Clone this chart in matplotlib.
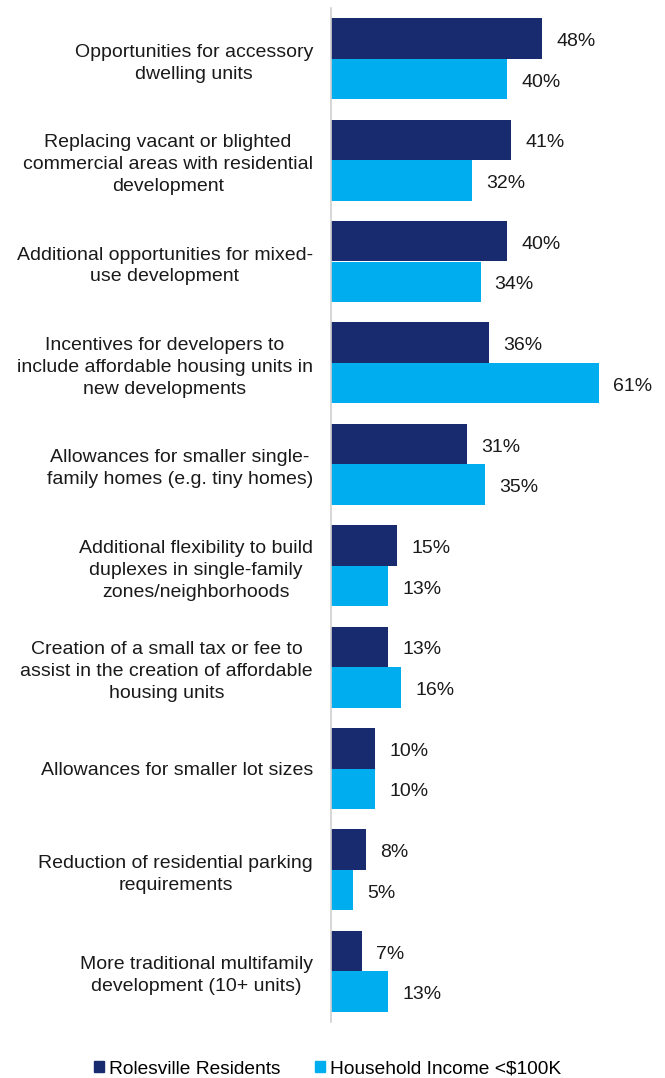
import numpy as np
import matplotlib.pyplot as plt
from matplotlib.patches import Patch

plt.rcParams['font.family'] = ['Liberation Sans', 'DejaVu Sans']

categories = [
    "Opportunities for accessory\ndwelling units",
    "Replacing vacant or blighted\ncommercial areas with residential\ndevelopment",
    "Additional opportunities for mixed-\nuse development",
    "Incentives for developers to\ninclude affordable housing units in\nnew developments",
    "Allowances for smaller single-\nfamily homes (e.g. tiny homes)",
    "Additional flexibility to build\nduplexes in single-family\nzones/neighborhoods",
    "Creation of a small tax or fee to\nassist in the creation of affordable\nhousing units",
    "Allowances for smaller lot sizes",
    "Reduction of residential parking\nrequirements",
    "More traditional multifamily\ndevelopment (10+ units)",
]
residents = [48, 41, 40, 36, 31, 15, 13, 10, 8, 7]
income = [40, 32, 34, 61, 35, 13, 16, 10, 5, 13]
series_names = ["Rolesville Residents", "Household Income <$100K"]

dark = "#172B6E"
light = "#00AEEF"
fs = 14

fig = plt.figure(figsize=(6.65, 10.78), dpi=100)
ax = fig.add_axes([331 / 665, 1 - 1022 / 1078, 330 / 665, 1014 / 1078])

y = np.arange(len(categories))
h = 0.4
b1 = ax.barh(y - h / 2, residents, height=h, color=dark)
b2 = ax.barh(y + h / 2, income, height=h, color=light)

for bars in (b1, b2):
    for bar in bars:
        w = bar.get_width()
        ax.text(w + 3.2, bar.get_y() + bar.get_height() / 2 + 0.03, f"{w:.0f}%",
                va="center", ha="left", fontsize=fs, color="#1a1a1a")

ax.set_yticks(y)
ax.set_yticklabels(categories, fontsize=fs, color="#1a1a1a", linespacing=1.38)
for t in ax.get_yticklabels():
    t.set_multialignment("center")
ax.tick_params(axis="y", length=0, pad=13)
ax.set_ylim(len(categories) - 0.5, -0.5)
ax.set_xlim(0, 75)
ax.set_xticks([])
for s in ["top", "right", "bottom"]:
    ax.spines[s].set_visible(False)
ax.spines["left"].set_color("#d0d0d0")
ax.spines["left"].set_linewidth(1.2)

handles = [Patch(color=dark), Patch(color=light)]
fig.legend(handles, series_names, loc="center", bbox_to_anchor=(0.4925, 1 - 1069 / 1078),
           ncol=2, frameon=False, fontsize=13.8, handlelength=0.55, handleheight=0.55,
           handletextpad=0.25, columnspacing=1.8)

fig.savefig("out.png", dpi=100)
